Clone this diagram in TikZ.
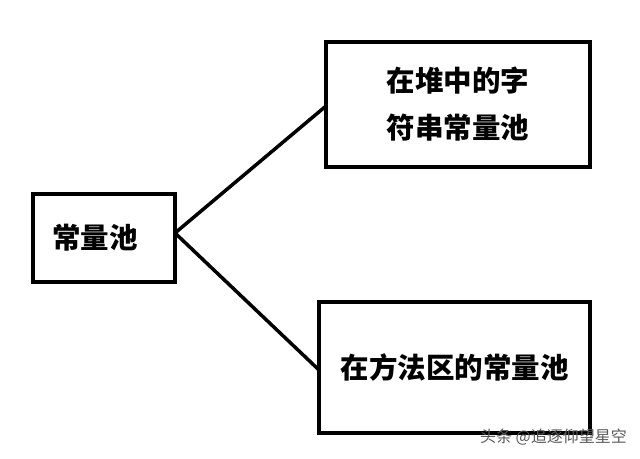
\documentclass[tikz,border=0pt]{standalone}
\usepackage{fontspec}
\newfontfamily\cjk{Noto Sans CJK SC}
\begin{document}
\begin{tikzpicture}[x=1pt,y=-1pt,
  box/.style={draw=black, line width=4pt, fill=white, outer sep=0pt, inner sep=0pt,
    font=\cjk\bfseries\fontsize{28.5}{47}\selectfont, align=center},
  link/.style={draw=black, line width=3.5pt}]
\useasboundingbox[fill=white] (0,0) rectangle (640,458);
\node[box, minimum width=142pt, minimum height=88pt, text width=104pt, align=left] (L) at (104,238) {常量池};
\node[box, minimum width=264pt, minimum height=125pt] (T) at (458,104.5) {在堆中的字\\符串常量池};
\node[box, minimum width=271pt, minimum height=131pt] (B) at (454.5,367.5) {在方法区的常量池};
\draw[link] ([yshift=5pt]L.east) -- ([yshift=-1.5pt]T.west);
\draw[link] ([yshift=5pt]L.east) -- ([yshift=-2.5pt]B.west);
\node[font=\cjk\fontsize{16}{16}\selectfont, text=black!65, inner sep=0pt, anchor=east] (W) at (627,437) {头条 @追逐仰望星空};
\end{tikzpicture}
\end{document}
